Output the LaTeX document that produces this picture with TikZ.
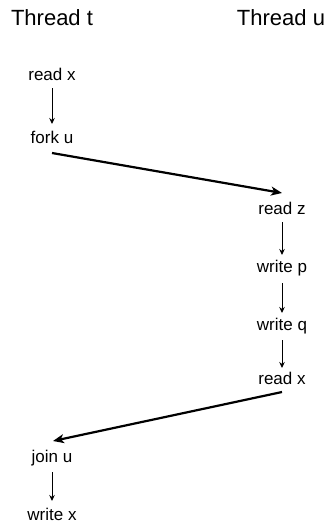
\documentclass[tikz,border=0pt]{standalone}
\usepackage{fontspec}
\setmainfont{Liberation Sans}
\usetikzlibrary{arrows.meta}
\begin{document}
\begin{tikzpicture}[x=1pt,y=-1pt,
  title/.style={font=\fontsize{22}{26}\selectfont, inner sep=0pt},
  op/.style={font=\fontsize{17}{20}\selectfont, inner sep=0pt},
  flow/.style={line width=0.9pt, -{Stealth[length=6pt,width=5.5pt]}},
  handoff/.style={line width=2.2pt, -{Stealth[length=11pt,width=9pt,inset=3pt]}}]
  \useasboundingbox (0,0) rectangle (330,523);
  % column headings
  \node[title] (tt) at (52,18) {Thread t};
  \node[title] (tu) at (281,18) {Thread u};
  % thread t, before the fork
  \node[op] (rx1) at (52,74) {read x};
  \node[op] (fk)  at (52,137) {fork u};
  % thread u
  \node[op] (rz)  at (282,208) {read z};
  \node[op] (wp)  at (282,268) {write p};
  \node[op] (wq)  at (282,326) {write q};
  \node[op] (rx2) at (282,378) {read x};
  % thread t, after the join
  \node[op] (jn)  at (52,458) {join u};
  \node[op] (wx)  at (52,514) {write x};
  % program order within each thread (yshift is upward, so down is negative)
  \draw[flow] ([yshift=-14]rx1.center) -- ([yshift=13]fk.center);
  \draw[flow] ([yshift=-14]rz.center)  -- ([yshift=13]wp.center);
  \draw[flow] ([yshift=-15]wp.center)  -- ([yshift=13]wq.center);
  \draw[flow] ([yshift=-14]wq.center)  -- ([yshift=10]rx2.center);
  \draw[flow] ([yshift=-14]jn.center)  -- ([yshift=13]wx.center);
  % fork and join edges
  \draw[handoff] ([yshift=-16]fk.center) -- ([yshift=15]rz.center);
  \draw[handoff] ([yshift=-14]rx2.center) -- ([xshift=1,yshift=17]jn.center);
\end{tikzpicture}
\end{document}
